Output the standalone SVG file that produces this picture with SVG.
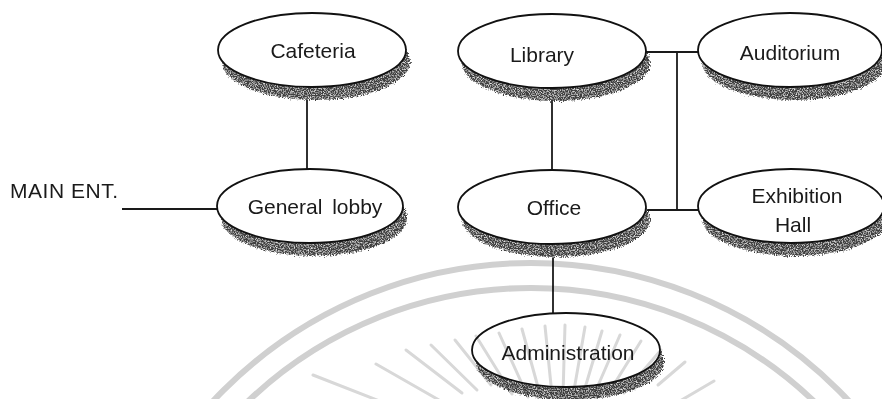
<svg xmlns="http://www.w3.org/2000/svg" width="882" height="399" viewBox="0 0 882 399">
<style>
.ell{fill:#fff;stroke:#111;stroke-width:1.8}
.shd{fill:#3f3f3f;filter:url(#grain)}
.lbl{font-family:"Liberation Sans",Arial,sans-serif;font-size:21px;fill:#1a1a1a;text-anchor:middle}
.conn line{stroke:#1a1a1a;stroke-width:1.8}
.arc{fill:none;stroke:#d0d0d0;stroke-width:6}
.ray{stroke:#d8d8d8;stroke-width:3;stroke-linecap:round}
</style>
<defs>
<filter id="grain" x="-8%" y="-15%" width="116%" height="130%">
<feTurbulence type="fractalNoise" baseFrequency="0.85" numOctaves="2" seed="7" result="n"/>
<feDisplacementMap in="SourceGraphic" in2="n" scale="6" xChannelSelector="R" yChannelSelector="G" result="d"/>
<feColorMatrix in="n" type="matrix" values="0 0 0 0 1  0 0 0 0 1  0 0 0 0 1  2.2 0 0 0 -1.0" result="w"/>
<feComposite in="w" in2="d" operator="in" result="wi"/>
<feMerge><feMergeNode in="d"/><feMergeNode in="wi"/></feMerge>
</filter>
</defs>
<rect x="0" y="0" width="882" height="399" fill="#fff"/>

<g id="connectors" class="conn">
<line x1="122" y1="209" x2="219" y2="209"/>
<line x1="307" y1="86" x2="307" y2="170"/>
<line x1="552" y1="88" x2="552" y2="171"/>
<line x1="553" y1="243" x2="553" y2="314"/>
<line x1="645" y1="52" x2="699" y2="52"/>
<line x1="677" y1="52" x2="677" y2="210"/>
<line x1="645" y1="210" x2="699" y2="210"/>
</g>

<g id="main-ent">
<text class="lbl" x="10" y="198" style="text-anchor:start" textLength="108">MAIN ENT.</text>
</g>

<g id="cafeteria">
<ellipse class="shd" cx="316" cy="62" rx="94" ry="38"/>
<ellipse class="ell" cx="312" cy="50" rx="94" ry="37"/>
<text class="lbl" x="313" y="58">Cafeteria</text>
</g>

<g id="general-lobby">
<ellipse class="shd" cx="314" cy="218" rx="93" ry="38"/>
<ellipse class="ell" cx="310" cy="206" rx="93" ry="37"/>
<text class="lbl" x="315" y="214" word-spacing="4">General lobby</text>
</g>

<g id="library">
<ellipse class="shd" cx="556" cy="63" rx="94" ry="38"/>
<ellipse class="ell" cx="552" cy="51" rx="94" ry="37"/>
<text class="lbl" x="542" y="62">Library</text>
</g>

<g id="auditorium">
<ellipse class="shd" cx="794" cy="62" rx="92" ry="38"/>
<ellipse class="ell" cx="790" cy="50" rx="92" ry="37"/>
<text class="lbl" x="790" y="60">Auditorium</text>
</g>

<g id="office">
<ellipse class="shd" cx="556" cy="219" rx="94" ry="38"/>
<ellipse class="ell" cx="552" cy="207" rx="94" ry="37"/>
<text class="lbl" x="554" y="215">Office</text>
</g>

<g id="exhibition-hall">
<ellipse class="shd" cx="795" cy="218" rx="93" ry="38"/>
<ellipse class="ell" cx="791" cy="206" rx="93" ry="37"/>
<text class="lbl" x="797" y="203">Exhibition</text>
<text class="lbl" x="793" y="232">Hall</text>
</g>

<g id="administration">
<ellipse class="shd" cx="570" cy="362" rx="94" ry="38"/>
<ellipse class="ell" cx="566" cy="350" rx="94" ry="37"/>
<text class="lbl" x="568" y="360">Administration</text>
</g>

<g id="watermark" style="mix-blend-mode:multiply">
<circle class="arc" cx="531" cy="698" r="435"/>
<circle class="arc" cx="531" cy="698" r="410"/>
<line class="ray" x1="382" y1="402" x2="313" y2="375"/>
<line class="ray" x1="439" y1="400" x2="376" y2="364"/>
<line class="ray" x1="462" y1="393" x2="406" y2="350"/>
<line class="ray" x1="477" y1="390" x2="431" y2="345"/>
<line class="ray" x1="491" y1="385" x2="455" y2="340"/>
<line class="ray" x1="512" y1="394" x2="476" y2="336"/>
<line class="ray" x1="528" y1="397" x2="499" y2="333"/>
<line class="ray" x1="541" y1="398" x2="522" y2="329"/>
<line class="ray" x1="552" y1="395" x2="545" y2="326"/>
<line class="ray" x1="563" y1="395" x2="565" y2="325"/>
<line class="ray" x1="573" y1="396" x2="585" y2="327"/>
<line class="ray" x1="582" y1="398" x2="602" y2="331"/>
<line class="ray" x1="593" y1="397" x2="620" y2="335"/>
<line class="ray" x1="608" y1="394" x2="641" y2="341"/>
<line class="ray" x1="624" y1="393" x2="661" y2="350"/>
<line class="ray" x1="658" y1="385" x2="685" y2="362"/>
<line class="ray" x1="668" y1="408" x2="714" y2="381"/>
</g>
</svg>
